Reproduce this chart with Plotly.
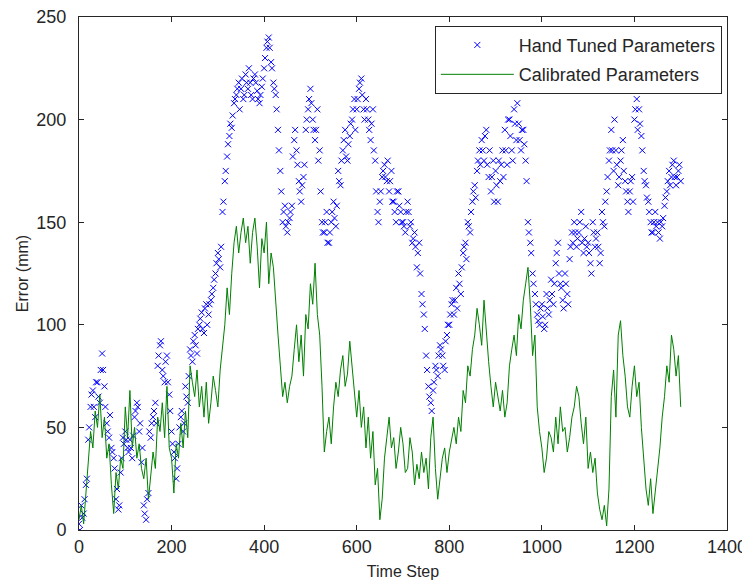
import plotly.graph_objects as go

# time steps sampled every 5 steps (0..1300)
steps = list(range(0, 1301, 5))
# additional readings of the hand-tuned cloud at offset steps (2, 7, 12, ...)
steps_mid = list(range(2, 1300, 5))

hand_tuned = [
    3, 12, 8, 22, 44, 60, 68, 55, 72, 62, 86, 70, 52, 45, 40, 35, 15, 10, 28, 45,
    48, 40, 44, 35, 55, 62, 48, 33, 12, 5, 18, 45, 55, 62, 80, 90, 78, 72, 85, 66,
    48, 38, 25, 42, 55, 48, 70, 62, 88, 82, 95, 86, 100, 106, 96, 110, 105, 112, 118, 125,
    135, 128, 155, 170, 182, 192, 196, 208, 212, 218, 215, 210, 222, 215, 218, 210, 222, 214, 208, 216,
    225, 235, 240, 228, 218, 212, 195, 175, 150, 158, 145, 152, 158, 190, 185, 170, 160, 172, 195, 205,
    215, 200, 190, 205, 185, 150, 145, 155, 140, 150, 160, 148, 175, 168, 185, 195, 180, 192, 200, 210,
    205, 215, 220, 205, 210, 200, 190, 205, 180, 155, 160, 172, 178, 170, 165, 175, 160, 150, 165, 155,
    150, 145, 160, 148, 140, 145, 128, 140, 115, 105, 85, 70, 62, 68, 80, 75, 90, 85, 78, 95,
    100, 110, 105, 118, 125, 115, 135, 140, 150, 145, 160, 168, 175, 185, 190, 180, 195, 172, 165, 180,
    175, 160, 170, 185, 195, 178, 200, 185, 205, 190, 198, 185, 195, 180, 150, 140, 125, 115, 105, 100,
    110, 98, 115, 105, 122, 110, 130, 140, 120, 112, 125, 115, 132, 145, 150, 138, 145, 155, 135, 148,
    140, 130, 150, 138, 145, 130, 155, 148, 165, 180, 195, 175, 185, 168, 180, 190, 170, 160, 165, 172,
    200, 210, 205, 192, 175, 168, 160, 150, 145, 155, 150, 142, 148, 158, 165, 175, 172, 180, 168, 175,
    170,
]

hand_tuned_mid = [
    0, 6, 15, 25, 50, 66, 60, 72, 65, 78, 78, 60, 48, 56, 38, 30, 20, 12, 35, 42,
    44, 38, 40, 46, 58, 60, 52, 40, 8, 15, 48, 52, 58, 52, 85, 92, 75, 82, 72, 58,
    42, 35, 30, 50, 58, 52, 65, 75, 85, 92, 90, 98, 103, 98, 108, 100, 110, 115, 122, 130,
    132, 138, 160, 175, 188, 198, 202, 210, 215, 205, 220, 212, 218, 225, 212, 220, 218, 210, 212, 220,
    230, 238, 235, 225, 215, 205, 185, 165, 155, 148, 150, 155, 182, 195, 178, 165, 168, 178, 200, 210,
    208, 195, 195, 180, 165, 145, 150, 140, 145, 155, 152, 158, 170, 180, 190, 182, 188, 198, 205, 195,
    210, 218, 212, 200, 205, 195, 198, 185, 165, 150, 165, 175, 172, 180, 170, 160, 155, 165, 158, 150,
    148, 155, 155, 150, 142, 138, 135, 125, 110, 98, 78, 65, 58, 72, 78, 85, 88, 80, 92, 100,
    105, 112, 112, 108, 120, 128, 138, 132, 148, 155, 165, 162, 180, 178, 185, 192, 178, 185, 172, 160,
    168, 180, 178, 172, 185, 200, 192, 180, 198, 208, 190, 195, 188, 170, 145, 135, 120, 110, 102, 108,
    104, 100, 108, 112, 115, 120, 135, 125, 118, 108, 120, 110, 138, 140, 145, 142, 150, 140, 142, 138,
    135, 125, 145, 142, 138, 135, 150, 160, 172, 185, 185, 200, 178, 172, 185, 175, 165, 155, 170, 160,
    205, 195, 198, 185, 170, 162, 155, 145, 150, 148, 145, 150, 152, 162, 170, 168, 178, 172, 172, 178,
]

calibrated = [
    5, 12, 3, 18, 35, 48, 40, 58, 50, 66, 45, 55, 35, 42, 22, 8, 28, 20, 35, 30,
    60, 45, 68, 40, 50, 35, 42, 30, 25, 35, 15, 28, 38, 30, 55, 48, 62, 45, 70, 40,
    35, 18, 42, 35, 52, 40, 58, 45, 80, 72, 65, 78, 60, 70, 55, 72, 52, 62, 75, 68,
    60, 78, 90, 100, 118, 105, 125, 140, 148, 135, 145, 152, 140, 148, 130, 145, 152, 138, 118, 142,
    135, 150, 120, 135, 128, 110, 95, 80, 65, 72, 62, 70, 75, 88, 100, 82, 95, 75, 105, 98,
    120, 110, 130, 105, 95, 70, 38, 48, 55, 42, 60, 72, 65, 78, 85, 70, 76, 92, 80, 65,
    55, 68, 50, 60, 40, 55, 35, 48, 22, 30, 5, 15, 35, 45, 55, 40, 45, 30, 38, 50,
    42, 28, 30, 45, 38, 22, 32, 25, 38, 28, 35, 20, 45, 55, 30, 15, 25, 35, 40, 28,
    38, 45, 50, 42, 55, 48, 68, 62, 80, 75, 88, 95, 108, 100, 90, 112, 95, 82, 70, 60,
    72, 65, 58, 68, 55, 62, 80, 88, 95, 85, 105, 98, 112, 120, 128, 110, 85, 95, 60, 48,
    40, 28, 35, 48, 45, 38, 55, 42, 60, 48, 50, 38, 45, 55, 60, 70, 65, 52, 42, 55,
    30, 38, 28, 35, 18, 10, 5, 12, 2, 20, 65, 78, 55, 95, 102, 85, 75, 60, 55, 70,
    80, 65, 72, 50, 35, 20, 12, 25, 8, 18, 28, 40, 55, 65, 80, 72, 95, 88, 75, 85,
    60,
]

x_ticks = [0, 200, 400, 600, 800, 1000, 1200, 1400]
y_ticks = [0, 50, 100, 150, 200, 250]

FONT = "Liberation Sans"
INK = "#262626"

fig = go.Figure()
fig.add_trace(go.Scatter(
    x=steps + steps_mid, y=hand_tuned + hand_tuned_mid, mode="markers",
    name="Hand Tuned Parameters", legendgroup="a",
    marker=dict(symbol="x-thin", size=6, color="rgba(0,0,0,0)",
                line=dict(color="#0000ff", width=1)),
))
fig.add_trace(go.Scatter(
    x=steps, y=calibrated, mode="lines", name="Calibrated Parameters", legendgroup="b",
    line=dict(color="#008000", width=1),
))

axis_common = dict(
    showgrid=False, zeroline=False, showline=True, mirror="allticks",
    linecolor=INK, linewidth=1, ticks="inside", ticklen=5,
    tickcolor=INK, tickfont=dict(family=FONT, size=18, color=INK),
    automargin=False, ticklabeloverflow="allow",
)
fig.update_xaxes(range=[0, 1400], tickvals=x_ticks,
                 title=dict(text="Time Step", font=dict(family=FONT, size=16, color=INK),
                            standoff=10),
                 **axis_common)
fig.update_yaxes(range=[0, 250], tickvals=y_ticks, ticklabelstandoff=8,
                 title=dict(text="Error (mm)", font=dict(family=FONT, size=16, color=INK),
                            standoff=3),
                 **axis_common)

# page body has an 8px margin; size the figure so the axes land where the reference has them
fig.update_layout(
    width=742, height=580,
    margin=dict(l=71, r=23, t=9, b=58),
    paper_bgcolor="white", plot_bgcolor="white",
    font=dict(family=FONT, color=INK),
    legend=dict(
        x=0.992, y=0.983, xanchor="right", yanchor="top",
        bgcolor="white", bordercolor=INK, borderwidth=1,
        font=dict(family=FONT, size=18, color=INK),
        itemwidth=73, tracegroupgap=3, traceorder="grouped",
    ),
)

fig.write_html("out.html")
